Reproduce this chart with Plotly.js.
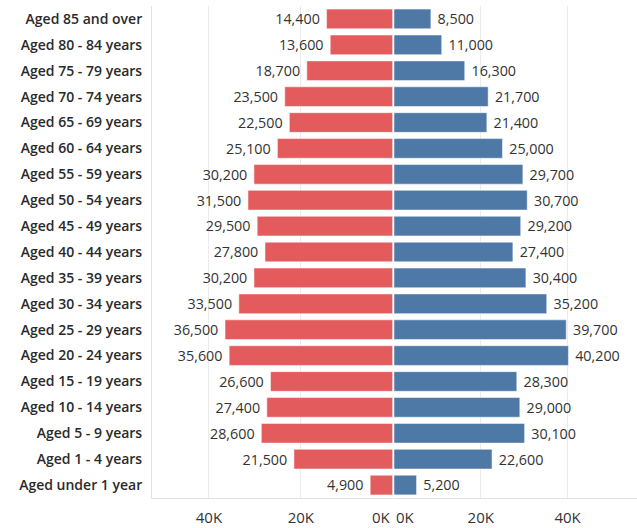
<!DOCTYPE html>
<html>
<head>
<meta charset="utf-8">
<script src="https://cdn.plot.ly/plotly-3.0.1.min.js"></script>
<style>html,body{margin:0;padding:0;background:#fff;}#chart{width:637px;height:528px;}</style>
</head>
<body>
<div id="chart"></div>
<script>
const categories = ["Aged 85 and over","Aged 80 - 84 years","Aged 75 - 79 years","Aged 70 - 74 years","Aged 65 - 69 years","Aged 60 - 64 years","Aged 55 - 59 years","Aged 50 - 54 years","Aged 45 - 49 years","Aged 40 - 44 years","Aged 35 - 39 years","Aged 30 - 34 years","Aged 25 - 29 years","Aged 20 - 24 years","Aged 15 - 19 years","Aged 10 - 14 years","Aged 5 - 9 years","Aged 1 - 4 years","Aged under 1 year"];
const femaleValues = [14400,13600,18700,23500,22500,25100,30200,31500,29500,27800,30200,33500,36500,35600,26600,27400,28600,21500,4900];
const maleValues = [8500,11000,16300,21700,21400,25000,29700,30700,29200,27400,30400,35200,39700,40200,28300,29000,30100,22600,5200];
const tickVals = [20000,40000];
const tickText = ["20K","40K"];
const zeroLabel = "0K";

const fontFam = "'Open Sans', sans-serif";
const labelColor = "#333333";

const traces = [
  {type:'bar', orientation:'h', y:categories, x:femaleValues, xaxis:'x', yaxis:'y',
   marker:{color:'#e35b5d', line:{color:'rgba(255,255,255,0.5)', width:1}},
   texttemplate:'%{x:,} ', textposition:'outside', cliponaxis:false,
   textfont:{family:fontFam, size:16, color:labelColor}, hoverinfo:'none'},
  {type:'bar', orientation:'h', y:categories, x:maleValues, xaxis:'x2', yaxis:'y2',
   marker:{color:'#4e79a7', line:{color:'rgba(255,255,255,0.5)', width:1}},
   texttemplate:' %{x:,}', textposition:'outside', cliponaxis:false,
   textfont:{family:fontFam, size:16, color:labelColor}, hoverinfo:'none'}
];

const layout = {
  width:637, height:528,
  margin:{l:0, r:0, t:6, b:30},
  paper_bgcolor:'#fff', plot_bgcolor:'#fff',
  showlegend:false,
  bargap:0.24,
  font:{family:fontFam, size:14, color:labelColor},
  xaxis:{domain:[0.2386,0.6165], range:[52400,0], tickvals:tickVals, ticktext:tickText,
    showgrid:true, gridcolor:'#ebebeb', zeroline:false, showline:true, linecolor:'#e2e2e2',
    ticks:'', ticklabelstandoff:6, tickfont:{family:fontFam, size:15, color:'#333'}, fixedrange:true},
  xaxis2:{domain:[0.6185,1], range:[0,56000], tickvals:tickVals, ticktext:tickText,
    showgrid:true, gridcolor:'#ebebeb', zeroline:false, showline:true, linecolor:'#e2e2e2',
    ticks:'', ticklabelstandoff:6, tickfont:{family:fontFam, size:15, color:'#333'}, fixedrange:true},
  yaxis:{anchor:'x', type:'category', autorange:'reversed', showgrid:false, zeroline:false,
    showline:true, linecolor:'#e2e2e2', ticks:'', ticklabelstandoff:6,
    tickfont:{family:fontFam, size:14, color:'#2a2a2a', weight:600}},
  yaxis2:{anchor:'x2', type:'category', autorange:'reversed', showgrid:false, zeroline:false,
    showticklabels:false, ticks:'', matches:'y'},
  annotations:[
    {xref:'paper', yref:'paper', x:0.6165, y:0, yshift:-19, xanchor:'right', yanchor:'middle',
     text:zeroLabel, showarrow:false, font:{family:fontFam, size:15, color:'#333'}},
    {xref:'paper', yref:'paper', x:0.6185, y:0, yshift:-19, xanchor:'left', yanchor:'middle',
     text:zeroLabel, showarrow:false, font:{family:fontFam, size:15, color:'#333'}}
  ]
};

Plotly.newPlot('chart', traces, layout, {displayModeBar:false, staticPlot:true});
</script>
</body>
</html>
